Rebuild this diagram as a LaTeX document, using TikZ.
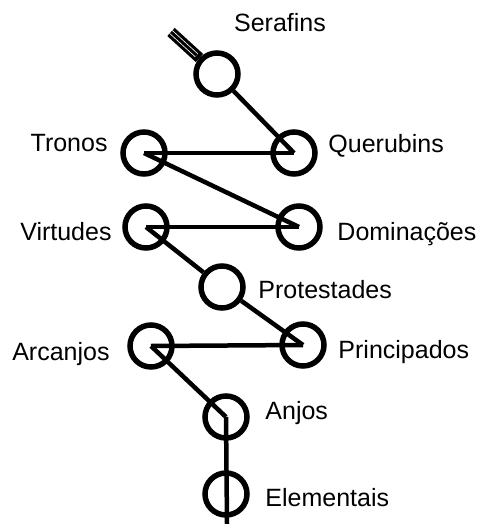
\documentclass[tikz,border=0pt]{standalone}
\usepackage{fontspec}
\setmainfont{Liberation Sans}
\usetikzlibrary{calc}

\begin{document}
\begin{tikzpicture}[x=1pt, y=-1pt,
                    every node/.style={font=\fontsize{25}{30}\selectfont},
                    angel/.style={circle, draw, line width=5.5pt, minimum size=42pt, inner sep=0pt},
                    rank/.style={inner sep=0pt, text height=18pt, text depth=0pt},
                    link/.style={line width=4.5pt}
]
\useasboundingbox (0,0) rectangle (481,524);

\node [angel] at (217,74) (ser) {};
\node [angel] at (294,153) (que) {};
\node [angel] at (144,153) (tro) {};
\node [angel] at (146,227) (vir) {};
\node [angel] at (299,227) (dom) {};
\node [angel] at (222,287) (pro) {};
\node [angel] at (151,346) (arc) {};
\node [angel] at (303,345) (pri) {};
\node [angel] at (226,417) (anj) {};
\node [angel] at (226,494) (ele) {};
\coordinate (tuft) at (171,32);
\coordinate (foot) at (227,524);

\node [rank] at ($(ser.north)+(63,-27.5)$) (SER) {Serafins};
\node [rank,anchor=west] at ($(que.east)+(10.5,-10)$) (QUE) {Querubins};
\node [rank,anchor=east] at ($(tro.west)+(-12.5,-11)$) (TRO) {Tronos};
\node [rank,anchor=east] at ($(vir.west)+(-10.5,4)$) (VIR) {Virtudes};
\node [rank,anchor=west] at ($(dom.east)+(14.5,4)$) (DOM) {Dominações};
\node [rank,anchor=west] at ($(pro.east)+(12.5,2)$) (PRO) {Protestades};
\node [rank,anchor=east] at ($(arc.west)+(-17.5,5)$) (ARC) {Arcanjos};
\node [rank,anchor=west] at ($(pri.east)+(11.5,4)$) (PRI) {Principados};
\node [rank,anchor=west] at ($(anj.east)+(15.5,-7)$) (ANJ) {Anjos};
\node [rank,anchor=west] at ($(ele.east)+(15.5,3)$) (ELE) {Elementais};

\draw [line width=11pt] (ser) -- (tuft);
\draw [white, line width=0.8pt, double=black, double distance=3pt, shorten <=4pt] (ser) -- (tuft);
\draw [link] (ser) -- (que.center);
\draw [link] (que.center) -- (tro.center);
\draw [link] (tro.center) -- (dom.center);
\draw [link] (dom.center) -- (vir.center);
\draw [link] (vir.center) -- (pro);
\draw [link] (pro) -- (pri.center);
\draw [link] (pri.center) -- (arc.center);
\draw [link] (arc.center) -- (anj.center);
\draw [link] (anj.center) -- (foot);

\end{tikzpicture}
\end{document}
